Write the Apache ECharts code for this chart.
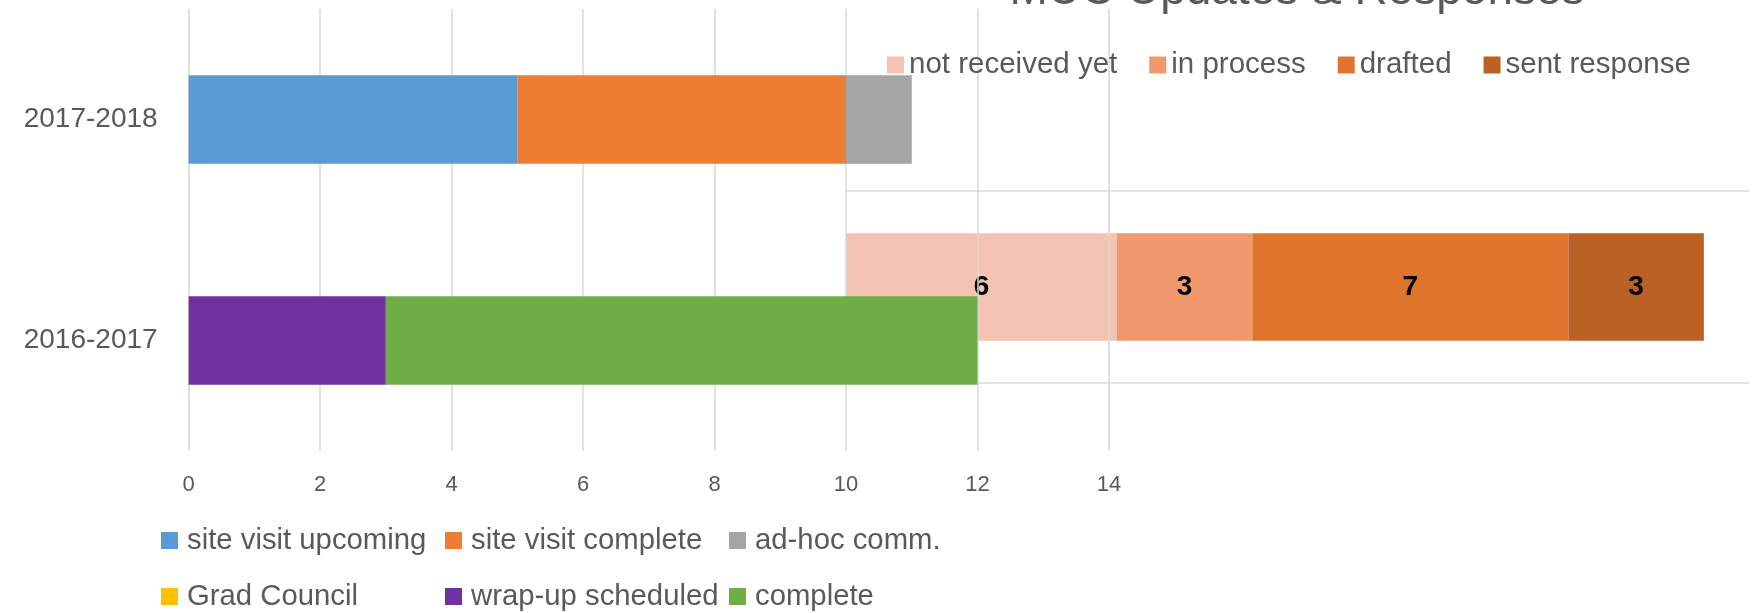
<!DOCTYPE html>
<html>
<head>
<meta charset="utf-8">
<script src="https://cdn.jsdelivr.net/npm/echarts@6/dist/echarts.min.js"></script>
<style>
  html, body { margin: 0; padding: 0; background: #fff; }
  #main { width: 1760px; height: 613px; }
</style>
</head>
<body>
<div id="main"></div>
<script>
// 数据 - 左边的图 (按年)
var years = ['2016-2017', '2017-2018'];
var statusNames = ['site visit upcoming', 'site visit complete', 'ad-hoc comm.', 'Grad Council', 'wrap-up scheduled', 'complete'];
var statusColors = ['#5B9BD5', '#ED7D31', '#A5A5A5', '#FFC000', '#7030A0', '#70AD47'];
var siteVisitUpcoming = [0, 5];
var siteVisitComplete = [0, 5];
var adHocComm = [0, 1];
var gradCouncil = [0, 0];
var wrapUpScheduled = [3, 0];
var complete = [9, 0];
var statusValues = [siteVisitUpcoming, siteVisitComplete, adHocComm, gradCouncil, wrapUpScheduled, complete];

// 数据 - 右边的图 MUC
var mucTitle = 'MUC Updates & Responses';
var mucCategory = ['MUC'];
var mucNames = ['not received yet', 'in process', 'drafted', 'sent response'];
var mucColors = ['#F4C3B1', '#F0996F', '#DF742C', '#BB6125'];
var mucValues = [6, 3, 7, 3];

var myChart = echarts.init(document.getElementById('main'));
var txt = '#595959';
var font = 'Liberation Sans';

var series = [];
// MUC 图放在下层
mucNames.forEach(function (n, i) {
    series.push({
        type: 'bar',
        name: n,
        stack: 'muc',
        xAxisIndex: 1,
        yAxisIndex: 1,
        z: 0,
        barWidth: '56%',
        itemStyle: { color: mucColors[i] },
        label: {
            show: true,
            position: 'inside',
            color: '#000',
            fontWeight: 'bold',
            fontSize: 28,
            fontFamily: font
        },
        data: [mucValues[i]]
    });
});
statusNames.forEach(function (n, i) {
    series.push({
        type: 'bar',
        name: n,
        stack: 'year',
        xAxisIndex: 0,
        yAxisIndex: 0,
        z: 3,
        barWidth: '40%',
        itemStyle: { color: statusColors[i] },
        data: statusValues[i]
    });
});

// 图例: 三列两行, 每格一个
var legendLeft = [161, 445, 729];
var legendTop = [526, 582];
var legends = statusNames.map(function (n, j) {
    return {
        left: legendLeft[j % 3],
        top: legendTop[Math.floor(j / 3)],
        padding: 0,
        itemWidth: 17,
        itemHeight: 17,
        icon: 'rect',
        textStyle: { color: txt, fontSize: 29.3, fontFamily: font, padding: [0, 0, 0, 4] },
        data: [n]
    };
});
legends.push({
    orient: 'horizontal',
    left: 887,
    top: 50,
    padding: 0,
    itemWidth: 17,
    itemHeight: 17,
    itemGap: 32,
    icon: 'rect',
    textStyle: { color: txt, fontSize: 29.5, fontFamily: font },
    data: mucNames
});

option = {
    backgroundColor: '#fff',
    animation: false,
    title: {
        text: mucTitle,
        left: 1292,
        top: -37,
        textAlign: 'center',
        textStyle: { color: txt, fontSize: 46, fontWeight: 'normal', fontFamily: font }
    },
    legend: legends,
    grid: [
        { left: 188.6, top: 9, width: 920.4, height: 442 },
        { left: 846, top: 191, width: 903, height: 192 }
    ],
    xAxis: [
        {
            type: 'value',
            gridIndex: 0,
            min: 0,
            max: 14,
            interval: 2,
            z: 1,
            axisLine: { show: false },
            axisTick: { show: false },
            axisLabel: { color: txt, fontSize: 22, fontFamily: font, margin: 23 },
            splitLine: { lineStyle: { color: '#D9D9D9', width: 1.5 } }
        },
        {
            type: 'value',
            gridIndex: 1,
            min: 0,
            max: 20,
            show: false
        }
    ],
    yAxis: [
        {
            type: 'category',
            gridIndex: 0,
            data: years,
            axisLine: { show: false },
            axisTick: { show: false },
            axisLabel: { color: txt, fontSize: 28, fontFamily: font, margin: 31 }
        },
        {
            type: 'category',
            gridIndex: 1,
            data: mucCategory,
            z: 0,
            axisLine: { show: false },
            axisTick: { show: false },
            axisLabel: { show: false },
            splitLine: { show: true, lineStyle: { color: '#D9D9D9', width: 1.5 } }
        }
    ],
    series: series
};

myChart.setOption(option, true);
window.addEventListener("resize", function () {
    myChart.resize();
});
</script>
</body>
</html>
